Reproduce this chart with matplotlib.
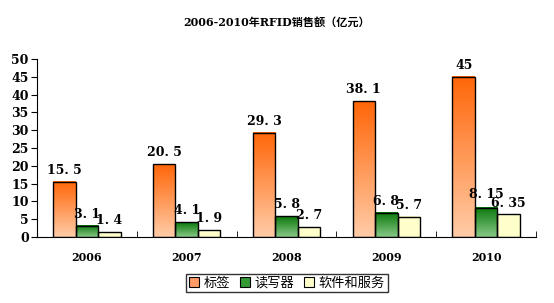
import numpy as np
import matplotlib
matplotlib.use("Agg")
import matplotlib.pyplot as plt
from matplotlib.colors import LinearSegmentedColormap
from matplotlib.patches import Patch

years = ["2006", "2007", "2008", "2009", "2010"]
series_names = ["标签", "读写器", "软件和服务"]
tags = [15.5, 20.5, 29.3, 38.1, 45]
readers = [3.1, 4.1, 5.8, 6.8, 8.15]
software = [1.4, 1.9, 2.7, 5.7, 6.35]
yticks = [0, 5, 10, 15, 20, 25, 30, 35, 40, 45, 50]

plt.rcParams['font.family'] = ['DejaVu Serif', 'Noto Sans CJK SC']

fig = plt.figure(figsize=(5.54, 3.03), dpi=100)
ax = fig.add_axes([37/554, 1-237/303, 499/554, 178/303])

x = np.arange(len(years))
w = 0.225
series = [tags, readers, software]
grads = [("#FFCCA8", "#FF6608"), ("#88C888", "#0A780A"), ("#FFFFCC", "#FFFFCC")]
legend_colors = ["#FF9966", "#339933", "#FFFFCC"]

for i, (vals, (c0, c1)) in enumerate(zip(series, grads)):
    cmap = LinearSegmentedColormap.from_list(f"g{i}", [c0, c1])
    bars = ax.bar(x + (i - 1) * w, vals, w, facecolor="none", edgecolor="black",
                  linewidth=1.0, zorder=3)
    for rect, v in zip(bars, vals):
        x0 = rect.get_x()
        grad = np.linspace(0, 1, 256).reshape(-1, 1)
        ax.imshow(grad, cmap=cmap, origin="lower", aspect="auto",
                  extent=[x0, x0 + w, 0, v], zorder=2)
        dy = 1.4
        if i == 2 and v == 6.35:
            dy = 1.1
        if i == 1 and v == 8.15:
            dy = 2.0
        ax.text(x0 + w / 2, v + dy, f"{v:g}".replace(".", ". "), ha="center",
                va="bottom", fontsize=9, fontweight="bold")

ax.set_xlim(-0.5, len(years) - 0.5)
ax.set_ylim(0, 50)
ax.set_yticks(yticks)
ax.set_yticklabels([str(t) for t in yticks], fontsize=9, fontweight="bold")
ax.set_xticks(x)
ax.set_xticklabels(years, fontsize=8, fontweight="bold")
ax.set_xticks(np.arange(len(years) + 1) - 0.5, minor=True)
ax.tick_params(axis="x", which="major", length=0, pad=11)
ax.tick_params(axis="x", which="minor", direction="in", length=4)
ax.tick_params(axis="y", direction="out", length=4, pad=2)
ax.spines["top"].set_visible(False)
ax.spines["right"].set_visible(False)

fig.text(0.5, 1 - 22/303, "2006-2010年RFID销售额（亿元）", ha="center", va="center",
         fontsize=8, fontweight="bold", family=["DejaVu Serif", "Noto Sans CJK SC"])

handles = [Patch(facecolor=c, edgecolor="black", linewidth=0.8) for c in legend_colors]
leg = fig.legend(handles, series_names, loc="center", bbox_to_anchor=(287/554, 1 - 283/303),
                 ncol=3, frameon=True, fancybox=False, edgecolor="black",
                 prop={"family": ["Noto Sans CJK SC"], "size": 9.5},
                 handlelength=0.8, handleheight=0.8, handletextpad=0.35,
                 columnspacing=0.7, borderpad=0.2)
leg.get_frame().set_linewidth(1.0)

fig.savefig("out.png", dpi=100)
